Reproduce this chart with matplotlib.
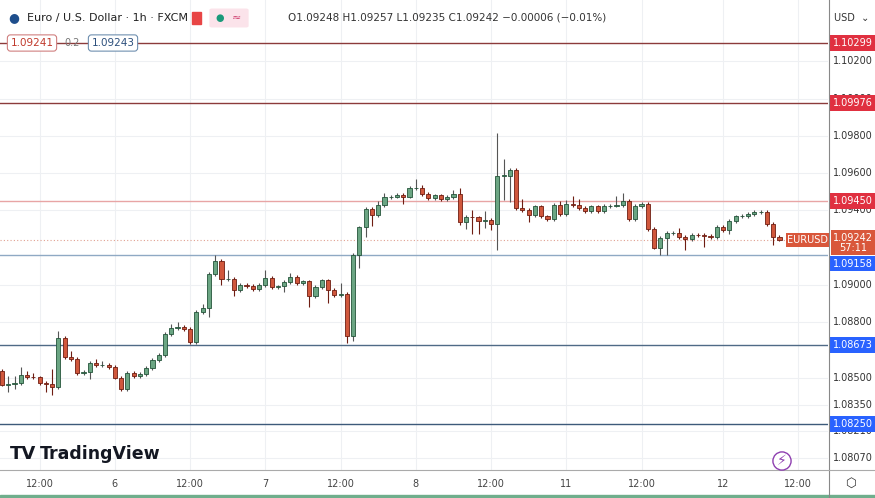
import matplotlib.pyplot as plt
from matplotlib.patches import Rectangle, FancyBboxPatch
import numpy as np

first_open = 1.08534
closes = [1.08462, 1.08466, 1.08471, 1.08516, 1.08503, 1.08501, 1.08471, 1.08464, 1.08448, 1.08713,
          1.08611, 1.08600, 1.08525, 1.08530, 1.08578, 1.08566, 1.08569, 1.08557, 1.08500, 1.08439,
          1.08525, 1.08507, 1.08519, 1.08552, 1.08596, 1.08623, 1.08736, 1.08766, 1.08770, 1.08761,
          1.08689, 1.08852, 1.08874, 1.09056, 1.09128, 1.09029, 1.09029, 1.08969, 1.08997, 1.08994,
          1.08976, 1.08999, 1.09037, 1.08987, 1.08990, 1.09012, 1.09040, 1.09008, 1.09017, 1.08940,
          1.08985, 1.09022, 1.08972, 1.08945, 1.08949, 1.08725, 1.09160, 1.09307, 1.09405, 1.09375,
          1.09429, 1.09470, 1.09473, 1.09482, 1.09473, 1.09518, 1.09518, 1.09488, 1.09464, 1.09479,
          1.09459, 1.09470, 1.09488, 1.09339, 1.09362, 1.09361, 1.09343, 1.09348, 1.09325, 1.09586,
          1.09586, 1.09617, 1.09411, 1.09402, 1.09375, 1.09420, 1.09366, 1.09352, 1.09429, 1.09378,
          1.09434, 1.09429, 1.09411, 1.09393, 1.09420, 1.09393, 1.09423, 1.09425, 1.09427, 1.09450,
          1.09352, 1.09423, 1.09434, 1.09298, 1.09199, 1.09250, 1.09276, 1.09276, 1.09255, 1.09246,
          1.09267, 1.09266, 1.09260, 1.09257, 1.09312, 1.09293, 1.09343, 1.09366, 1.09370, 1.09378,
          1.09389, 1.09389, 1.09325, 1.09255, 1.09242]
# wick lengths beyond the body, in pips
wick_up = [1, 4, 4, 4, 2, 2, 1, 1, 8, 4,  1, 3, 1, 1, 1, 2, 2, 1, 1, 1,
           1, 1, 1, 1, 1, 1, 1, 2, 3, 1,  1, 1, 2, 1, 3, 1, 5, 1, 1, 1,
           1, 1, 4, 1, 1, 1, 2, 1, 1, 1,  1, 1, 1, 1, 6, 1, 1, 1, 1, 1,
           2, 2, 1, 1, 1, 1, 5, 2, 1, 1,  1, 1, 2, 3, 1, 4, 1, 5, 1, 23,
           9, 1, 1, 5, 1, 1, 1, 1, 1, 2,  2, 4, 3, 1, 1, 1, 1, 1, 5, 4,
           1, 1, 1, 1, 1, 1, 1, 1, 3, 1,  1, 1, 1, 1, 1, 1, 1, 1, 1, 1,
           1, 1, 1, 1, 1]
wick_dn = [1, 4, 3, 1, 1, 1, 1, 4, 4, 1,  1, 1, 1, 1, 4, 1, 1, 1, 1, 1,
           1, 1, 1, 1, 1, 1, 1, 1, 1, 1,  1, 1, 1, 5, 1, 3, 1, 3, 1, 1,
           1, 1, 1, 1, 1, 3, 1, 1, 1, 6,  1, 1, 7, 1, 1, 4, 3, 7, 5, 6,
           1, 1, 1, 1, 4, 1, 1, 1, 1, 1,  1, 1, 1, 2, 4, 9, 7, 4, 3, 14,
           13, 14, 1, 1, 4, 1, 1, 1, 1, 1, 1, 1, 1, 1, 1, 1, 1, 1, 1, 1,
           1, 1, 1, 1, 1, 4, 9, 1, 1, 6,  1, 1, 6, 1, 1, 1, 2, 1, 1, 1,
           1, 1, 1, 4, 1]

levels = [1.10299, 1.09976, 1.09450, 1.09158, 1.08673, 1.08250]
level_colors = ['#8c3b3b', '#8c3b3b', '#e8a5a5', '#8fa9c4', '#4f6a86', '#3d5a7a']
level_box = ['#e03040', '#e03040', '#e03040', '#2962ff', '#2962ff', '#2962ff']
tick_vals = [1.10200, 1.10000, 1.09800, 1.09600, 1.09400, 1.09000, 1.08800, 1.08500, 1.08350, 1.08210, 1.08070]
time_pos = [6, 18, 30, 42, 54, 66, 78, 90, 102, 115, 127]
time_lab = ['12:00', '6', '12:00', '7', '12:00', '8', '12:00', '11', '12:00', '12', '12:00']
last_price = 1.09242

opens = [first_open] + closes[:-1]
highs = [max(o, c) + u * 1e-4 for o, c, u in zip(opens, closes, wick_up)]
lows = [min(o, c) - d * 1e-4 for o, c, d in zip(opens, closes, wick_dn)]

fig = plt.figure(figsize=(8.75, 4.98), dpi=100)
ax = fig.add_axes([0, 28/498, 828/875, 470/498])
px = 6.27
ax.set_xlim(-2/px, 826/px)
ax.set_ylim(1.08003, 1.10530)
ax.axis('off')

for t in time_pos:
    ax.axvline(t, color='#eef0f3', lw=0.8, zorder=0)
for v in tick_vals:
    ax.axhline(v, color='#eef0f3', lw=0.8, zorder=0)

for lv, lc in zip(levels, level_colors):
    ax.axhline(lv, color=lc, lw=1.0, zorder=1)
ax.axhline(last_price, color='#e0a090', lw=0.8, ls=(0, (1, 2)), zorder=1)

for i, (o, h, l, c) in enumerate(zip(opens, highs, lows, closes)):
    up = c >= o
    face = '#6ba583' if up else '#d0573c'
    edge = '#24543a' if up else '#6e1d12'
    ax.vlines(i, l, h, color='#555555' if up else '#6e1d12', lw=0.8, zorder=2)
    bh = max(abs(c - o), 0.00002)
    ax.add_patch(Rectangle((i - 0.33, min(o, c)), 0.66, bh, facecolor=face,
                           edgecolor=edge, lw=0.6, zorder=3))

# right price axis
xr = (853 - 2) / px
for v in tick_vals:
    ax.text(xr, v, f'{v:.5f}', fontsize=7, color='#333333',
            ha='center', va='center', clip_on=False)
label_shift = [0, 0, 0, -6, 0, 0]
for lv, bc, dy in zip(levels, level_box, label_shift):
    ax.annotate(f'{lv:.5f}', (xr, lv), xytext=(0, dy), textcoords='offset points',
                fontsize=7, color='white', ha='center', va='center',
                annotation_clip=False, zorder=6,
                bbox=dict(boxstyle='square,pad=0.3', fc=bc, ec='none'))
ax.annotate(f'{last_price:.5f}\n57:11', (xr, last_price), xytext=(0, 5), textcoords='offset points',
            fontsize=7, color='white', ha='center', va='top', annotation_clip=False, zorder=7,
            linespacing=1.0, bbox=dict(boxstyle='square,pad=0.25', fc='#d9573b', ec='none'))
ax.text((808 - 2) / px, last_price, 'EURUSD', fontsize=7, color='white', ha='center', va='center',
        zorder=7, bbox=dict(boxstyle='square,pad=0.2', fc='#d9573b', ec='none'))

# frame lines
fig.add_artist(plt.Line2D([829/875, 829/875], [0, 1], color='#888888', lw=0.8))
fig.add_artist(plt.Line2D([0, 1], [28/498, 28/498], color='#aaaaaa', lw=0.8))
fig.add_artist(Rectangle((0, 0), 1, 3/498, color='#6fae8c', transform=fig.transFigure))
for t, lab in zip(time_pos, time_lab):
    x = (2 + t * px) / 875
    fig.text(x, 14/498, lab, fontsize=7, color='#444444', ha='center', va='center')
fig.text(851/875, 15/498, '⬡', fontsize=9, color='#333333', ha='center', va='center')
fig.text(852/875, 1 - 18/498, 'USD  ⌄', fontsize=7, color='#333333', ha='center', va='center')

# header
fig.text(8/875, 1 - 18/498, '●', fontsize=9, color='#1e4e8c', va='center')
fig.text(27/875, 1 - 18/498, 'Euro / U.S. Dollar · 1h · FXCM', fontsize=8, color='#222222', va='center')
fig.add_artist(Rectangle((192/875, 1 - 24/498), 9/875, 12/498, color='#e84545', transform=fig.transFigure))
fig.add_artist(FancyBboxPatch((212/875, 1 - 26/498), 34/875, 16/498, boxstyle='round,pad=0.003',
                              fc='#fbe3ea', ec='none', transform=fig.transFigure))
fig.text(220/875, 1 - 18/498, '●', fontsize=7, color='#1a9a7a', va='center', ha='center')
fig.text(236/875, 1 - 18/498, '≈', fontsize=8, color='#d04070', va='center', ha='center')
fig.text(288/875, 1 - 18/498, 'O1.09248 H1.09257 L1.09235 C1.09242 −0.00006 (−0.01%)',
         fontsize=7.5, color='#333333', va='center')
fig.text(32/875, 1 - 43/498, '1.09241', fontsize=7.5, color='#c0392b', ha='center', va='center',
         bbox=dict(boxstyle='round,pad=0.3', fc='white', ec='#d08080', lw=0.8))
fig.text(72/875, 1 - 43/498, '0.2', fontsize=7, color='#777777', ha='center', va='center')
fig.text(113/875, 1 - 43/498, '1.09243', fontsize=7.5, color='#2c4f7c', ha='center', va='center',
         bbox=dict(boxstyle='round,pad=0.3', fc='white', ec='#7090b0', lw=0.8))

# watermark
fig.text(10/875, 44/498, 'TV', fontsize=13, fontweight='bold', color='#131722', va='center')
fig.text(40/875, 44/498, 'TradingView', fontsize=12.5, fontweight='bold', color='#131722', va='center')
fig.text(782/875, 37/498, '⚡', fontsize=10, color='#8e3fb0', ha='center', va='center',
         bbox=dict(boxstyle='circle,pad=0.15', fc='white', ec='#8e3fb0', lw=1))

fig.savefig('out.png', dpi=100)
